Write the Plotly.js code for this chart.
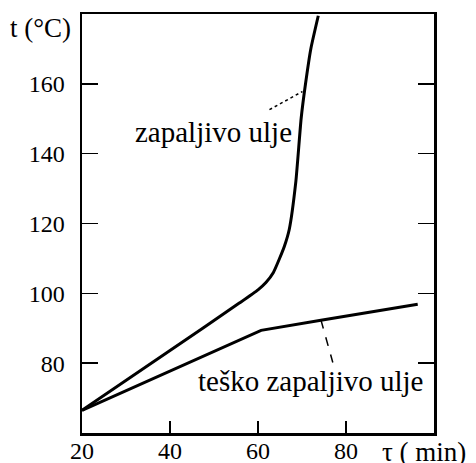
<!DOCTYPE html>
<html>
<head>
<meta charset="utf-8">
<script src="https://cdn.plot.ly/plotly-3.0.1.min.js"></script>
<style>html,body{margin:0;padding:0;background:#fff;}#chart{width:476px;height:463px;}</style>
</head>
<body>
<div id="chart"></div>
<script>
// Data
var upperTime = [20, 40, 55.75, 60, 61.8, 63.5, 64.8, 66, 67.1, 68.6, 69.8, 70.8, 72, 73.7];
var upperTemp = [66.5, 83.6, 97.2, 101, 103.1, 106, 109.7, 113.5, 118.3, 132, 150, 160, 170, 179.5];
var lowerTime = [20, 46.7, 60.7, 74.3, 96.3];
var lowerTemp = [66.5, 81.4, 89.4, 92.3, 96.9];
var upperLeaderX = [62.6, 70.1];
var upperLeaderY = [152.6, 157.8];
var lowerLeaderX = [74.3, 77.0];
var lowerLeaderY = [92.4, 80.2];
var upperLabel = "zapaljivo ulje";
var lowerLabel = "teško zapaljivo ulje";
var xTicks = [20, 40, 60, 80];
var yTicks = [80, 100, 120, 140, 160];
var xTitle = "τ ( min)";
var yTitle = "t (°C)";

var serifFamily = "Liberation Serif";
var inkColor = "#000";

var traces = [
  {x: upperTime, y: upperTemp, mode: "lines", line: {color: "#000", width: 3, shape: "spline", smoothing: 0.5}, hoverinfo: "none"},
  {x: lowerTime, y: lowerTemp, mode: "lines", line: {color: "#000", width: 3}, hoverinfo: "none"},
  {x: upperLeaderX, y: upperLeaderY, mode: "lines", line: {color: "#000", width: 1.5, dash: "dot"}, hoverinfo: "none"},
  {x: lowerLeaderX, y: lowerLeaderY, mode: "lines", line: {color: "#000", width: 1.5, dash: "dash"}, hoverinfo: "none"}
];

var annotationList = [
  {x: 49.8, y: 146.3, xref: "x", yref: "y", text: upperLabel, showarrow: false, font: {family: serifFamily, size: 29, color: inkColor}},
  {x: 72.1, y: 74.9, xref: "x", yref: "y", text: lowerLabel, showarrow: false, font: {family: serifFamily, size: 29, color: inkColor}},
  {x: 0.847, y: -0.045, xref: "paper", yref: "paper", xanchor: "left", yanchor: "middle", text: xTitle, showarrow: false, font: {family: serifFamily, size: 27, color: inkColor}},
  {x: -0.026, y: 0.967, xref: "paper", yref: "paper", xanchor: "right", yanchor: "middle", text: yTitle, showarrow: false, font: {family: serifFamily, size: 27, color: inkColor}}
];
xTicks.forEach(function(v){
  annotationList.push({x: v, y: -0.043, xref: "x", yref: "paper", xanchor: "center", yanchor: "middle", text: String(v), showarrow: false, font: {family: serifFamily, size: 24, color: inkColor}});
});

var layout = {
  width: 476, height: 463,
  margin: {l: 82, r: 42, t: 14, b: 30},
  paper_bgcolor: "#fff", plot_bgcolor: "#fff",
  showlegend: false,
  xaxis: {
    range: [20, 100], tickvals: xTicks, showticklabels: false,
    ticks: "inside", ticklen: 12, tickwidth: 1.5, tickcolor: "#000",
    showline: true, linecolor: "#000", linewidth: 2.5, mirror: true,
    showgrid: false, zeroline: false
  },
  yaxis: {
    range: [60, 180], tickvals: yTicks, ticktext: yTicks.map(String),
    ticks: "inside", ticklen: 16, tickwidth: 1.5, tickcolor: "#000",
    showline: true, linecolor: "#000", linewidth: 2.5, mirror: "ticks",
    showgrid: false, zeroline: false, tickfont: {family: serifFamily, size: 24, color: inkColor}, ticklabelstandoff: 10
  },
  annotations: annotationList
};

Plotly.newPlot("chart", traces, layout, {displayModeBar: false, staticPlot: true});
</script>
</body>
</html>
